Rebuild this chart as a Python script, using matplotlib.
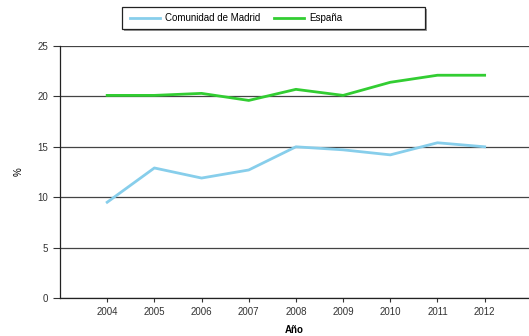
import matplotlib.pyplot as plt
from matplotlib.patches import Rectangle

plt.rcParams['font.family'] = ['Liberation Sans', 'DejaVu Sans']

years = [2004, 2005, 2006, 2007, 2008, 2009, 2010, 2011, 2012]
madrid = [9.5, 12.9, 11.9, 12.7, 15.0, 14.7, 14.2, 15.4, 15.0]
espana = [20.1, 20.1, 20.3, 19.6, 20.7, 20.1, 21.4, 22.1, 22.1]

fig = plt.figure(figsize=(5.29, 3.36), dpi=100)
ax = fig.add_axes([60 / 529, 38 / 336, 469 / 529, 252 / 336])

ax.plot(years, madrid, color='#87ceeb', lw=2, label='Comunidad de Madrid')
ax.plot(years, espana, color='#32cd32', lw=2, label='España')

ax.set_xlim(2003, 2012.94)
ax.set_ylim(0, 25)
ax.set_xticks(years)
ax.set_yticks([0, 5, 10, 15, 20, 25])
ax.tick_params(labelsize=7, colors='#333333', length=5, width=0.8)
ax.tick_params(axis='x', length=3)
ax.yaxis.grid(True, color='#444444', lw=0.9)
ax.set_axisbelow(True)
for s in ['top', 'right']:
    ax.spines[s].set_visible(False)
for s in ['left', 'bottom']:
    ax.spines[s].set_color('#222222')
    ax.spines[s].set_linewidth(0.9)

ax.set_xlabel('Año', fontsize=7, fontweight='bold', labelpad=6)
ax.set_ylabel('%', fontsize=7, labelpad=10)

# legend box with shadow, drawn by hand
fig.patches.append(Rectangle((124 / 529, 1 - 31 / 336), 303 / 529, 22 / 336,
                             transform=fig.transFigure, facecolor='#999999', edgecolor='none'))
fig.patches.append(Rectangle((122 / 529, 1 - 29 / 336), 303 / 529, 22 / 336,
                             transform=fig.transFigure, facecolor='white',
                             edgecolor='#222222', lw=0.9))
fig.legend(loc='center left', bbox_to_anchor=(130 / 529, 1 - 18 / 336), ncol=2,
           fontsize=7, frameon=False, borderpad=0, borderaxespad=0,
           handlelength=3.1, columnspacing=1.4, handletextpad=0.5)

fig.savefig('out.png', dpi=100)
